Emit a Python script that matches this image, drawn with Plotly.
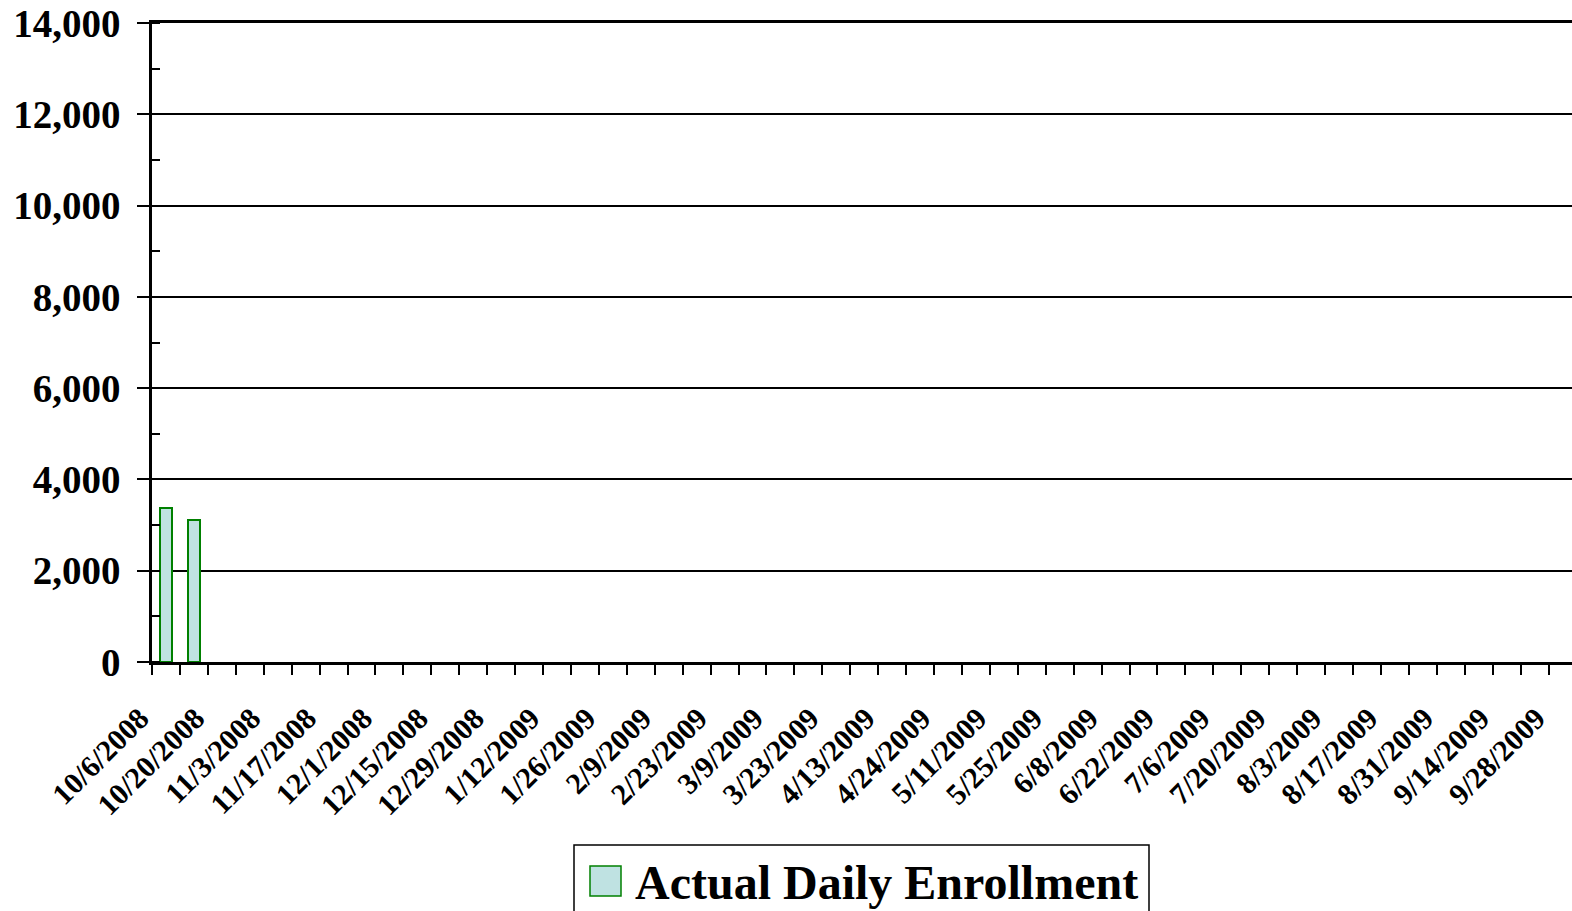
import plotly.graph_objects as go

# ---- data ----
weeks = [
    "10/6/2008", "10/13/2008", "10/20/2008", "10/27/2008", "11/3/2008", "11/10/2008",
    "11/17/2008", "11/24/2008", "12/1/2008", "12/8/2008", "12/15/2008", "12/22/2008",
    "12/29/2008", "1/5/2009", "1/12/2009", "1/19/2009", "1/26/2009", "2/2/2009",
    "2/9/2009", "2/16/2009", "2/23/2009", "3/2/2009", "3/9/2009", "3/16/2009",
    "3/23/2009", "4/6/2009", "4/13/2009", "4/20/2009", "4/24/2009", "5/4/2009",
    "5/11/2009", "5/18/2009", "5/25/2009", "6/1/2009", "6/8/2009", "6/15/2009",
    "6/22/2009", "6/29/2009", "7/6/2009", "7/13/2009", "7/20/2009", "7/27/2009",
    "8/3/2009", "8/10/2009", "8/17/2009", "8/24/2009", "8/31/2009", "9/7/2009",
    "9/14/2009", "9/21/2009", "9/28/2009",
]
enrollment = [3380, 3120]  # actual daily enrollment (first two weeks reported)
series_name = "Actual Daily Enrollment"
y_ticks = [0, 2000, 4000, 6000, 8000, 10000, 12000, 14000]

# ---- geometry ----
W, H = 1572, 911
L, R, T, B = 152, 0, 23, 249
PW, PH = W - L - R, H - T - B


def px(x):
    return (x - L) / PW


def py(y):
    return (H - B - y) / PH


FONT = "Liberation Serif"
FILL = "#BFE2E2"
EDGE = "#008000"

idx = list(range(len(weeks)))
bar_x = [i + 0.5 for i in idx[:len(enrollment)]]

fig = go.Figure()
fig.add_trace(go.Bar(
    x=bar_x, y=enrollment, name=series_name, width=0.43,
    marker=dict(color=FILL, line=dict(color=EDGE, width=2)),
    showlegend=False,
    hovertext=weeks[:len(enrollment)],
))

tick_text = [weeks[i] if i % 2 == 0 else "" for i in idx]

fig.update_layout(
    width=W, height=H,
    margin=dict(l=L, r=R, t=T, b=B, autoexpand=False),
    paper_bgcolor="white", plot_bgcolor="white",
    font=dict(family=FONT, color="black"),
    showlegend=False,
    bargap=0,
)

fig.update_xaxes(
    range=[0, PW / 27.93],
    tickmode="array", tickvals=idx, ticktext=tick_text,
    tickangle=-45,
    ticks="outside", ticklen=10, tickwidth=2, tickcolor="black",
    showline=True, linecolor="black", linewidth=2.5, mirror=True,
    showgrid=False, zeroline=False,
    tickfont=dict(family=FONT, size=30, color="black", weight="bold"),
    ticklabelstandoff=14, ticklabelshift=-12,
    ticklabeloverflow="allow",
)

fig.update_yaxes(
    range=[0, 14000],
    tickmode="array", tickvals=y_ticks,
    tickformat=",",
    ticks="outside", ticklen=12, tickwidth=2, tickcolor="black",
    minor=dict(dtick=1000, ticks="inside", ticklen=8, tickwidth=2, tickcolor="black", showgrid=False),
    showline=True, linecolor="black", linewidth=2.5,
    showgrid=True, gridcolor="black", gridwidth=2,
    zeroline=False,
    tickfont=dict(family=FONT, size=39, color="black", weight="bold"),
    ticklabelstandoff=9,
    ticklabeloverflow="allow",
)

# ---- legend (box, swatch, label) ----
fig.add_shape(type="rect", xref="paper", yref="paper",
              x0=px(574), x1=px(1149), y0=py(845), y1=py(940),
              line=dict(color="black", width=1.5), fillcolor="rgba(0,0,0,0)", layer="above")
fig.add_shape(type="rect", xref="paper", yref="paper",
              x0=px(590), x1=px(621), y0=py(866), y1=py(896),
              line=dict(color=EDGE, width=1.5), fillcolor=FILL, layer="above")
fig.add_annotation(xref="paper", yref="paper", x=px(633), y=py(883),
                   xanchor="left", yanchor="middle", showarrow=False,
                   text="<b>" + series_name + "</b>",
                   font=dict(family=FONT, size=48, color="black"))

fig.write_html("out.html", config={"displayModeBar": False},
               post_script="document.body.style.margin='0';")
